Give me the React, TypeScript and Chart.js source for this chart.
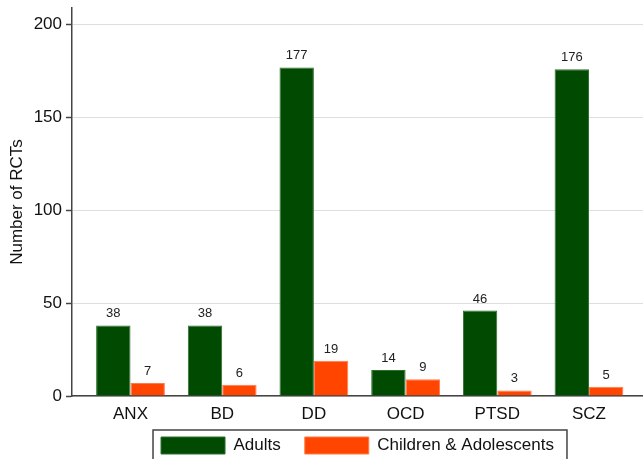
import React, { useEffect, useRef } from "react";
import { Chart, registerables } from "chart.js";

Chart.register(...registerables);

const categories = ["ANX", "BD", "DD", "OCD", "PTSD", "SCZ"];
const adults = [38, 38, 177, 14, 46, 176];
const children = [7, 6, 19, 9, 3, 5];
const yTicks = [0, 50, 100, 150, 200];
const seriesNames = ["Adults", "Children & Adolescents"];

const FONT = "'Liberation Sans', Arial, Helvetica, sans-serif";

const valueLabels = {
  id: "valueLabels",
  afterDatasetsDraw(chart: any) {
    const ctx = chart.ctx;
    ctx.save();
    ctx.font = `13px ${FONT}`;
    ctx.fillStyle = "#222";
    ctx.textAlign = "center";
    ctx.textBaseline = "alphabetic";
    chart.data.datasets.forEach((ds: any, di: number) => {
      const meta = chart.getDatasetMeta(di);
      meta.data.forEach((el: any, i: number) => {
        const v = ds.data[i].y;
        ctx.fillText(String(v), el.x, el.y - 8);
      });
    });
    ctx.restore();
  },
};

// Pull the legend up so its top padding does not push it off the page
const legendShift = {
  id: "legendShift",
  afterLayout(chart: any) {
    const lg = chart.legend;
    if (!lg) return;
    lg.top -= 12;
    lg.bottom -= 12;
  },
};

const legendFrame = {
  id: "legendFrame",
  afterDraw(chart: any) {
    const lg = chart.legend;
    if (!lg || !lg.legendHitBoxes || !lg.legendHitBoxes.length) return;
    const hb = lg.legendHitBoxes;
    const first = hb[0];
    const last = hb[hb.length - 1];
    const ctx = chart.ctx;
    ctx.save();
    ctx.strokeStyle = "#444";
    ctx.lineWidth = 1.5;
    const left = first.left - 8;
    const top = first.top - 7;
    const right = last.left + last.width + 13;
    ctx.strokeRect(left, top, right - left, 60);
    ctx.restore();
  },
};

export default function App() {
  const ref = useRef<HTMLCanvasElement | null>(null);

  useEffect(() => {
    document.body.style.margin = "0";
    document.body.style.overflow = "hidden";
    const canvas = ref.current;
    if (!canvas) return;
    const chart = new Chart(canvas, {
      type: "bar",
      data: {
        datasets: [
          {
            label: seriesNames[0],
            data: adults.map((v, i) => ({ x: i, y: v })),
            backgroundColor: "#014a01",
            borderColor: "#2f6e2f",
            borderWidth: 1,
            categoryPercentage: 0.75,
            barPercentage: 1,
          },
          {
            label: seriesNames[1],
            data: children.map((v, i) => ({ x: i, y: v })),
            backgroundColor: "#ff4500",
            borderColor: "#ff7a4a",
            borderWidth: 1,
            categoryPercentage: 0.75,
            barPercentage: 1,
          },
        ],
      },
      options: {
        animation: false,
        responsive: false,
        maintainAspectRatio: false,
        layout: { padding: { top: 8, right: 0, left: 0, bottom: 0 } },
        plugins: {
          tooltip: { enabled: false },
          legend: {
            position: "bottom",
            fullSize: false,
            labels: {
              boxWidth: 64,
              boxHeight: 17,
              padding: 24,
              color: "#111",
              font: { family: FONT, size: 17 },
            },
          },
        },
        scales: {
          x: {
            type: "linear",
            offset: false,
            min: -0.638,
            max: 5.589,
            afterBuildTicks: (scale: any) => {
              scale.ticks = categories.map((_, i) => ({ value: i }));
            },
            afterFit: (scale: any) => {
              scale.height = 29;
              scale.paddingLeft = 0;
              scale.paddingRight = 0;
            },
            ticks: {
              callback: (v: any) => categories[v as number] ?? "",
              color: "#111",
              padding: 8,
              maxRotation: 0,
              autoSkip: false,
              font: { family: FONT, size: 17 },
            },
            grid: { display: false, drawTicks: false },
            border: { display: true, color: "#444", width: 1.5 },
          },
          y: {
            min: 0,
            max: 209,
            afterBuildTicks: (scale: any) => {
              scale.ticks = yTicks.map((v) => ({ value: v }));
            },
            afterFit: (scale: any) => {
              scale.width = 72;
              scale.paddingTop = 0;
              scale.paddingBottom = 0;
            },
            ticks: {
              color: "#111",
              padding: 4,
              font: { family: FONT, size: 17 },
            },
            grid: {
              color: "#dedede",
              lineWidth: 1,
              tickLength: 6,
              tickColor: "#444",
              tickWidth: 1.5,
            },
            border: { display: true, color: "#444", width: 1.5 },
            title: {
              display: true,
              text: "Number of RCTs",
              color: "#111",
              font: { family: FONT, size: 17 },
              padding: { top: 7, bottom: 0 },
            },
          },
        },
      },
      plugins: [valueLabels, legendShift, legendFrame],
    } as any);
    return () => chart.destroy();
  }, []);

  return (
    <div style={{ width: 643, height: 476 }}>
      <canvas ref={ref} width={643} height={476} style={{ display: "block" }} />
    </div>
  );
}
